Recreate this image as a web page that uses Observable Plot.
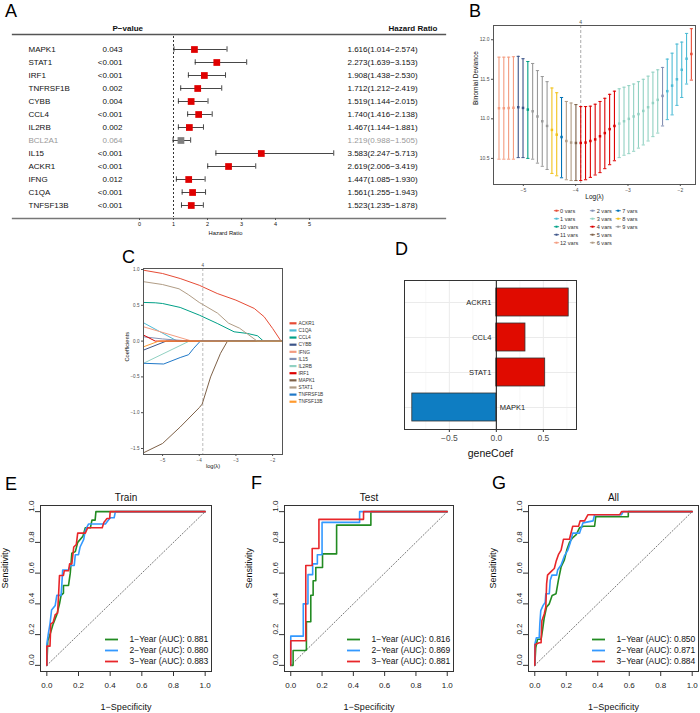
<!DOCTYPE html>
<html><head><meta charset="utf-8">
<script src="https://cdn.jsdelivr.net/npm/d3@7"></script>
<script src="https://cdn.jsdelivr.net/npm/@observablehq/plot@0.6"></script>
<style>
body{margin:0;background:#fff;}
#root{position:relative;width:700px;height:713px;overflow:hidden;background:#fff;font-family:"Liberation Sans",Arial,Helvetica,sans-serif;}
.pl{position:absolute;}
.pl svg{display:block;overflow:visible;}
</style></head><body><div id="root"></div>
<script>
// ---------- Panel A: forest plot ----------
const forestGenes = ["MAPK1","STAT1","IRF1","TNFRSF1B","CYBB","CCL4","IL2RB","BCL2A1","IL15","ACKR1","IFNG","C1QA","TNFSF13B"];
const pValues = ["0.043","<0.001","<0.001","0.002","0.004","<0.001","0.002","0.064","<0.001","<0.001","0.012","<0.001","<0.001"];
const hrEst  = [1.616,2.273,1.908,1.712,1.519,1.740,1.467,1.219,3.583,2.619,1.447,1.561,1.523];
const hrLow  = [1.014,1.639,1.438,1.212,1.144,1.416,1.144,0.988,2.247,2.006,1.085,1.255,1.235];
const hrHigh = [2.574,3.153,2.530,2.419,2.015,2.138,1.881,1.505,5.713,3.419,1.930,1.943,1.878];
const hrTicks = [0,1,2,3,4,5];

// ---------- Panel B: cross-validation curve ----------
const cvLogLambda = [-5.465,-5.373,-5.281,-5.189,-5.097,-5.006,-4.914,-4.822,-4.730,-4.638,-4.546,-4.454,-4.362,-4.270,-4.178,-4.087,-3.995,-3.903,-3.811,-3.719,-3.627,-3.535,-3.443,-3.351,-3.259,-3.168,-3.076,-2.984,-2.892,-2.800,-2.708,-2.616,-2.524,-2.432,-2.340,-2.249,-2.157,-2.065,-1.973,-1.881,-1.789];
const cvMean = [11.134,11.134,11.136,11.14,11.147,11.138,11.117,11.096,11.03,10.97,10.91,10.86,10.80,10.77,10.72,10.70,10.695,10.695,10.70,10.72,10.74,10.78,10.82,10.87,10.91,10.94,10.97,11.00,11.03,11.06,11.10,11.147,11.20,11.24,11.29,11.35,11.42,11.50,11.62,11.76,11.82];
const cvUpper = [11.78,11.78,11.78,11.785,11.79,11.76,11.725,11.70,11.61,11.535,11.47,11.39,11.33,11.27,11.22,11.20,11.18,11.155,11.155,11.16,11.185,11.22,11.26,11.31,11.35,11.38,11.40,11.42,11.44,11.47,11.50,11.54,11.59,11.62,11.65,11.755,11.83,11.945,11.97,12.08,12.14];
const cvLower = [10.49,10.49,10.49,10.49,10.51,10.51,10.50,10.49,10.44,10.40,10.36,10.31,10.28,10.255,10.23,10.22,10.22,10.22,10.23,10.26,10.29,10.32,10.37,10.42,10.47,10.51,10.54,10.56,10.59,10.63,10.67,10.72,10.775,10.82,10.91,10.99,11.05,11.17,11.27,11.44,11.49];
const cvNVars = [12,12,12,12,11,11,10,9,9,9,9,8,8,7,6,6,5,4,4,4,4,4,4,4,4,3,3,3,3,3,3,3,3,3,2,1,1,1,1,1,0];
const lambdaMin = -3.903;
const lambdaMinVars = "4";
const varLevels = ["0 vars","1 vars","10 vars","11 vars","12 vars","2 vars","3 vars","4 vars","5 vars","6 vars","7 vars","8 vars","9 vars"];
const varPalette = ["#E64B35","#4DBBD5","#00A087","#3C5488","#F39B7F","#8491B4","#91D1C2","#DC0000","#7E6148","#B09C85","#0072B5","#F2C21B","#999999"];

// ---------- Panel C: coefficient paths (log lambda, coefficient) ----------
const coefGenes = ["ACKR1","C1QA","CCL4","CYBB","IFNG","IL15","IL2RB","IRF1","MAPK1","STAT1","TNFRSF1B","TNFSF13B"];
const coefPalette = ["#E64B35","#4DBBD5","#00A087","#3C5488","#F39B7F","#8491B4","#91D1C2","#DC0000","#7E6148","#B09C85","#1F78C8","#FF9A2E"];
const pathACKR1 = [[-5.52,0.99],[-5.0,0.944],[-4.52,0.874],[-4.0,0.78],[-3.51,0.665],[-3.0,0.572],[-2.5,0.456],[-2.23,0.34],[-2.0,0.177],[-1.77,0],[-1.73,0]];
const pathC1QA = [[-5.52,0.256],[-4.6,0],[-1.73,0]];
const pathCCL4 = [[-5.52,0.54],[-5.2,0.535],[-5.0,0.525],[-4.52,0.47],[-4.0,0.363],[-3.51,0.247],[-3.05,0.13],[-2.69,0.107],[-2.41,0.074],[-2.25,0],[-1.73,0]];
const pathCYBB = [[-5.52,-0.126],[-4.9,0],[-1.73,0]];
const pathIFNG = [[-5.52,0.2],[-4.2,0],[-1.73,0]];
const pathIL15 = [[-5.52,0.06],[-5.0,0.03],[-4.25,0],[-1.73,0]];
const pathIL2RB = [[-5.52,-0.31],[-4.27,0],[-1.73,0]];
const pathIRF1 = [[-5.52,0.084],[-5.2,0],[-1.73,0]];
const pathMAPK1 = [[-5.52,-1.56],[-5.0,-1.43],[-4.52,-1.2],[-4.0,-0.93],[-3.92,-0.88],[-3.69,-0.5],[-3.42,-0.17],[-3.23,0],[-1.73,0]];
const pathSTAT1 = [[-5.52,0.83],[-5.0,0.79],[-4.55,0.73],[-4.3,0.65],[-4.0,0.54],[-3.5,0.39],[-3.2,0.25],[-2.9,0.18],[-2.42,0],[-1.73,0]];
const pathTNFRSF1B = [[-5.52,-0.31],[-4.97,-0.32],[-4.52,-0.23],[-4.29,-0.19],[-4.15,-0.10],[-3.97,0],[-1.73,0]];
const pathTNFSF13B = [[-5.52,-0.08],[-5.1,0],[-1.73,0]];
const coefPaths = [pathACKR1,pathC1QA,pathCCL4,pathCYBB,pathIFNG,pathIL15,pathIL2RB,pathIRF1,pathMAPK1,pathSTAT1,pathTNFRSF1B,pathTNFSF13B];

// ---------- Panel D: selected gene coefficients ----------
const modelGenes = ["ACKR1","CCL4","STAT1","MAPK1"];
const modelCoef = [0.77,0.31,0.52,-0.894];

// ---------- Panels E-G: ROC curves (FPR, TPR) ----------
const rocYears = ["1","2","3"];
const rocColors = ["#228B22","#3399FF","#E8262A"];
const trainY1 = [[0,0],[0.006,0.16],[0.02,0.2],[0.04,0.27],[0.063,0.33],[0.08,0.4],[0.09,0.455],[0.105,0.47],[0.105,0.52],[0.137,0.52],[0.148,0.6],[0.158,0.73],[0.18,0.74],[0.195,0.8],[0.228,0.84],[0.243,0.895],[0.275,0.895],[0.285,0.945],[0.305,0.945],[0.31,1],[1,1]];
const trainY2 = [[0,0],[0,0.136],[0.01,0.21],[0.02,0.27],[0.03,0.36],[0.053,0.39],[0.063,0.455],[0.09,0.455],[0.095,0.53],[0.1,0.62],[0.137,0.62],[0.148,0.65],[0.173,0.65],[0.18,0.72],[0.2,0.72],[0.21,0.77],[0.233,0.82],[0.243,0.88],[0.264,0.92],[0.37,0.92],[0.40,0.96],[0.425,0.96],[0.433,1],[1,1]];
const trainY3 = [[0,0],[0,0.125],[0.02,0.125],[0.025,0.27],[0.04,0.28],[0.053,0.33],[0.068,0.34],[0.074,0.455],[0.08,0.585],[0.105,0.585],[0.11,0.615],[0.137,0.615],[0.144,0.66],[0.158,0.66],[0.17,0.77],[0.186,0.785],[0.195,0.86],[0.243,0.86],[0.258,0.895],[0.35,0.895],[0.36,0.93],[0.38,0.955],[0.397,0.955],[0.40,1],[1,1]];
const testY1 = [[0,0],[0.015,0],[0.015,0.097],[0.09,0.097],[0.1,0.1],[0.1,0.284],[0.128,0.284],[0.128,0.456],[0.143,0.456],[0.143,0.55],[0.16,0.55],[0.16,0.637],[0.203,0.637],[0.203,0.725],[0.293,0.725],[0.293,0.912],[0.512,0.912],[0.512,1],[1,1]];
const testY2 = [[0,0],[0,0.19],[0.08,0.19],[0.08,0.40],[0.11,0.40],[0.11,0.59],[0.14,0.59],[0.14,0.66],[0.17,0.66],[0.17,0.72],[0.2,0.72],[0.2,0.93],[0.44,0.93],[0.44,1],[1,1]];
const testY3 = [[0,0],[0,0.16],[0.096,0.16],[0.096,0.65],[0.137,0.65],[0.137,0.76],[0.18,0.76],[0.18,0.95],[0.465,0.95],[0.465,1],[1,1]];
const allY1 = [[0,0],[0.006,0.114],[0.017,0.17],[0.04,0.17],[0.05,0.235],[0.06,0.31],[0.075,0.38],[0.092,0.4],[0.11,0.455],[0.135,0.466],[0.15,0.554],[0.167,0.64],[0.188,0.686],[0.203,0.75],[0.22,0.8],[0.24,0.83],[0.263,0.85],[0.284,0.895],[0.31,0.905],[0.38,0.905],[0.387,0.967],[0.594,0.967],[0.594,1],[1,1]];
const allY2 = [[0,0],[0,0.136],[0.01,0.18],[0.028,0.18],[0.032,0.27],[0.038,0.356],[0.053,0.39],[0.066,0.41],[0.07,0.466],[0.092,0.466],[0.098,0.554],[0.109,0.587],[0.139,0.587],[0.145,0.62],[0.167,0.653],[0.188,0.712],[0.21,0.75],[0.226,0.8],[0.241,0.86],[0.284,0.86],[0.306,0.927],[0.37,0.94],[0.38,0.98],[0.55,0.98],[0.562,1],[1,1]];
const allY3 = [[0,0],[0.002,0.136],[0.028,0.147],[0.04,0.147],[0.045,0.29],[0.06,0.334],[0.07,0.38],[0.075,0.53],[0.081,0.587],[0.103,0.61],[0.124,0.63],[0.135,0.675],[0.15,0.72],[0.167,0.75],[0.182,0.82],[0.22,0.82],[0.241,0.905],[0.278,0.905],[0.288,0.94],[0.316,0.94],[0.338,0.98],[0.54,0.98],[0.551,1],[1,1]];
const aucTrain = [0.881,0.880,0.883];
const aucTest = [0.816,0.869,0.881];
const aucAll = [0.850,0.871,0.884];
const rocTicks = [0,0.2,0.4,0.6,0.8,1];

// ================= rendering =================
const FF = '"Liberation Sans", Arial, Helvetica, sans-serif';
const root = document.getElementById("root");
function place(node, left, top){const d=document.createElement("div");d.className="pl";d.style.left=left+"px";d.style.top=top+"px";d.appendChild(node);root.appendChild(d);}
const baseStyle = (fs, col) => ({fontFamily:FF, fontSize:fs+"px", color:col, background:"transparent", overflow:"visible"});
const capSym = {draw(ctx){ctx.moveTo(-1.6,0);ctx.lineTo(1.6,0);}};
const keySym = {draw(ctx){ctx.moveTo(-6.5,0);ctx.lineTo(6.5,0);}};
const intFmt = d3.format("d");
const M = "middle";

// Panel A
const forest = forestGenes.map((g,i)=>({gene:g,p:pValues[i],hr:hrEst[i],lo:hrLow[i],hi:hrHigh[i]}));
const isSig = d => d.p.startsWith("<") || +d.p < 0.05;
const f3 = d3.format(".3f");
const plotA = Plot.plot({
  width:450, height:222, marginLeft:12, marginRight:5, marginTop:14, marginBottom:24,
  x:{domain:[0,5], range:[139,309]},
  y:{type:"band", domain:forestGenes, range:[15.3,197.7], axis:null},
  color:{type:"identity"},
  style:baseStyle(8,"#111"),
  marks:[
    Plot.frame({anchor:"top", stroke:"#555", strokeWidth:1.3}),
    Plot.frame({anchor:"bottom", stroke:"#777", strokeWidth:1.3}),
    Plot.ruleX([1], {stroke:"#333", strokeDasharray:"2,2", insetTop:2, insetBottom:1}),
    Plot.ruleY(forest, {y:"gene", x1:"lo", x2:"hi", stroke:"#333", strokeWidth:0.9}),
    Plot.tickX(forest, {x:"lo", y:"gene", stroke:"#333", strokeWidth:0.9, insetTop:3.3, insetBottom:3.3}),
    Plot.tickX(forest, {x:"hi", y:"gene", stroke:"#333", strokeWidth:0.9, insetTop:3.3, insetBottom:3.3}),
    Plot.dot(forest, {x:"hr", y:"gene", symbol:"square", r:3.8, fill:d=>isSig(d)?"#E00000":"#7F7F7F", stroke:null}),
    Plot.text(forest, {y:"gene", text:"gene", frameAnchor:"left", dx:16, textAnchor:"start", fill:d=>isSig(d)?"#111":"#999"}),
    Plot.text(forest, {y:"gene", text:"p", frameAnchor:"left", dx:110, textAnchor:"end", fill:d=>isSig(d)?"#111":"#999"}),
    Plot.text(forest, {y:"gene", text:d=>`${f3(d.hr)}(${f3(d.lo)}\u2212${f3(d.hi)})`, frameAnchor:"left", dx:335, textAnchor:"start", fill:d=>isSig(d)?"#111":"#999"}),
    Plot.text(["P\u2212value"], {frameAnchor:"top-left", lineAnchor:M, dx:100, dy:-6, fontWeight:"bold"}),
    Plot.text(["Hazard Ratio"], {frameAnchor:"top-left", lineAnchor:M, dx:376, dy:-6, fontWeight:"bold"}),
    Plot.axisX({ticks:hrTicks, tickFormat:intFmt, tickSize:2, tickPadding:2, fontSize:5.5, label:null, stroke:"#555"}),
    Plot.text(["Hazard Ratio"], {frameAnchor:"bottom", lineAnchor:M, dx:-3.5, dy:14.7, fontSize:5.8})
  ]
});
place(plotA, 0, 20);

// Panel B
const cv = cvLogLambda.map((l,i)=>({lam:l, mean:cvMean[i], hi:cvUpper[i], lo:cvLower[i], v:cvNVars[i]+" vars"}));
const plotB = Plot.plot({
  width:260, height:190, marginLeft:53, marginRight:5, marginTop:10, marginBottom:21,
  x:{domain:[-5.57,-1.71]}, y:{domain:[10.17,12.18]},
  color:{domain:varLevels, range:varPalette},
  style:baseStyle(5,"#4D4D4D"),
  marks:[
    Plot.ruleX([lambdaMin], {stroke:"#aaa", strokeDasharray:"3,2"}),
    Plot.ruleX(cv, {x:"lam", y1:"lo", y2:"hi", stroke:"v", strokeWidth:1.1}),
    Plot.dot(cv, {x:"lam", y:"hi", symbol:capSym, stroke:"v", strokeWidth:1}),
    Plot.dot(cv, {x:"lam", y:"lo", symbol:capSym, stroke:"v", strokeWidth:1}),
    Plot.dot(cv, {x:"lam", y:"mean", symbol:"square", r:1.4, fill:"v"}),
    Plot.frame({stroke:"#555", strokeWidth:1}),
    Plot.axisX({ticks:[-5,-4,-3,-2], tickFormat:intFmt, tickSize:2, tickPadding:2, label:null}),
    Plot.axisY({ticks:[10.5,11,11.5,12], tickFormat:".1f", tickSize:2, tickPadding:2, label:null}),
    Plot.axisX({anchor:"top", ticks:[lambdaMin], tickFormat:()=>lambdaMinVars, tickSize:0, tickPadding:2, label:null}),
    Plot.text(["Binomial Deviance"], {frameAnchor:"left", dx:-18, rotate:-90, fontSize:6.5, fill:"#111"}),
    Plot.text(["Log(\u03bb)"], {frameAnchor:"bottom", lineAnchor:M, dy:12.5, fontSize:6.5, fill:"#111"})
  ]
});
place(plotB, 440, 15);

// Panel C
const coefData = coefPaths.flatMap((p,i)=>p.map(([l,c])=>({lam:l, coef:c, gene:coefGenes[i]})));
const plotC = Plot.plot({
  width:190, height:225, marginLeft:43, marginRight:8, marginTop:18, marginBottom:21,
  x:{domain:[-5.52,-1.73]}, y:{domain:[-1.584,1.014]},
  color:{domain:coefGenes, range:coefPalette},
  style:baseStyle(4.6,"#4D4D4D"),
  marks:[
    Plot.ruleX([lambdaMin], {stroke:"#bbb", strokeDasharray:"3,2"}),
    Plot.line(coefData, {x:"lam", y:"coef", z:"gene", stroke:"gene", strokeWidth:1}),
    Plot.frame({stroke:"#555", strokeWidth:1}),
    Plot.axisX({ticks:[-5,-4,-3,-2], tickFormat:intFmt, tickSize:2, tickPadding:2, label:null}),
    Plot.axisY({ticks:[-1.5,-1,-0.5,0,0.5,1], tickFormat:".1f", tickSize:2, tickPadding:2, label:null}),
    Plot.axisX({anchor:"top", ticks:[lambdaMin], tickFormat:()=>lambdaMinVars, tickSize:0, tickPadding:2, label:null}),
    Plot.text(["Coefficients"], {frameAnchor:"left", dx:-16, rotate:-90, fontSize:5.7, fill:"#111"}),
    Plot.text(["log(\u03bb)"], {frameAnchor:"bottom", lineAnchor:M, dy:12, fontSize:5.7, fill:"#111"})
  ]
});
place(plotC, 100, 250);

// Panel D
const geneCoef = modelGenes.map((g,i)=>({gene:g, coef:modelCoef[i]}));
const plotD = Plot.plot({
  width:215, height:200, marginLeft:34, marginRight:9, marginTop:10, marginBottom:41,
  x:{domain:[-0.977,0.853]},
  y:{type:"band", domain:modelGenes, paddingInner:0.2, paddingOuter:0.2, axis:null},
  color:{type:"identity"},
  style:baseStyle(8.5,"#4D4D4D"),
  marks:[
    Plot.gridX({ticks:[-0.75,-0.25,0.25,0.75], stroke:"#F3F3F3", strokeOpacity:1, strokeWidth:0.6}),
    Plot.gridX({ticks:[-0.5,0,0.5], stroke:"#EBEBEB", strokeOpacity:1, strokeWidth:1}),
    Plot.gridY({stroke:"#EBEBEB", strokeOpacity:1, strokeWidth:1}),
    Plot.barX(geneCoef, {x:"coef", y:"gene", fill:d=>d.coef>0?"#E00B00":"#0E7DC2", stroke:"#333", strokeWidth:0.8}),
    Plot.ruleX([0], {stroke:"#111", strokeWidth:1}),
    Plot.text(geneCoef.filter(d=>d.coef>0), {x:0, y:"gene", text:"gene", textAnchor:"end", dx:-5, fontSize:7.5, fill:"#222"}),
    Plot.text(geneCoef.filter(d=>d.coef<=0), {x:0, y:"gene", text:"gene", textAnchor:"start", dx:3.5, fontSize:7.5, fill:"#222"}),
    Plot.frame({stroke:"#333", strokeWidth:1}),
    Plot.axisX({ticks:[-0.5,0,0.5], tickFormat:".1f", tickSize:3, tickPadding:2, label:null, stroke:"#333"}),
    Plot.text(["geneCoef"], {frameAnchor:"bottom", lineAnchor:M, dy:24, fontSize:10.5, fill:"#111"})
  ]
});
place(plotD, 370, 270);

// Panels E-G
function rocPanel(title, curves, aucs, width, marginRight){
  const data = curves.flatMap((c,i)=>c.map(([x,y])=>({fpr:x, tpr:y, s:rocYears[i]})));
  const rowDy = [-32,-21,-10];
  const legend = rocYears.flatMap((yr,i)=>[
    Plot.dot([yr], {frameAnchor:"bottom-right", dx:-100, dy:rowDy[i], symbol:keySym, stroke:rocColors[i], strokeWidth:1.8}),
    Plot.text([`${yr}\u2212Year (AUC): ${aucs[i].toFixed(3)}`], {frameAnchor:"bottom-right", lineAnchor:M, dx:-82, dy:rowDy[i], textAnchor:"start", fontSize:8.5, fill:"#111"})
  ]);
  return Plot.plot({
    width, height:225, marginLeft:40, marginRight, marginTop:17, marginBottom:42,
    x:{domain:[-0.04,1.04]}, y:{domain:[-0.04,1.04]},
    color:{domain:rocYears, range:rocColors},
    style:baseStyle(8,"#222"),
    marks:[
      Plot.line([0,1], {x:d=>d, y:d=>d, stroke:"#555", strokeWidth:0.8, strokeDasharray:"1.2,2"}),
      Plot.line(data, {x:"fpr", y:"tpr", z:"s", stroke:"s", strokeWidth:1.6}),
      Plot.frame({stroke:"#333", strokeWidth:1}),
      Plot.axisX({ticks:rocTicks, tickFormat:".1f", tickSize:5, tickPadding:6, label:null, stroke:"#333"}),
      Plot.axisY({ticks:rocTicks, tickFormat:()=>"", tickSize:5, label:null, stroke:"#333"}),
      Plot.text(rocTicks, {y:d=>d, text:d=>d.toFixed(1), frameAnchor:"left", dx:-9, rotate:-90}),
      Plot.text([title], {frameAnchor:"top", lineAnchor:M, dy:-8, fontSize:10, fill:"#111"}),
      Plot.text(["1\u2212Specificity"], {frameAnchor:"bottom", lineAnchor:M, dy:36, fontSize:9, fill:"#111"}),
      Plot.text(["Sensitivity"], {frameAnchor:"left", dx:-35, rotate:-90, fontSize:9, fill:"#111"}),
      ...legend
    ]
  });
}
place(rocPanel("Train", [trainY1,trainY2,trainY3], aucTrain, 220, 9), 0, 488);
place(rocPanel("Test", [testY1,testY2,testY3], aucTest, 218, 9), 244, 488);
place(rocPanel("All", [allY1,allY2,allY3], aucAll, 212, 2), 488, 488);

// Overlay: panel letters and small legends of B and C
const ov = d3.select(root).append("svg").attr("width",700).attr("height",713)
  .style("position","absolute").style("left","0px").style("top","0px").style("pointer-events","none")
  .style("font-family", FF);
const panelLetters = ["A","B","C","D","E","F","G"];
const letterX = [5,469,122,395,5,251,492];
const letterY = [16.7,16.7,263,255,490,489,489];
panelLetters.forEach((t,i)=>ov.append("text").attr("x",letterX[i]).attr("y",letterY[i]).attr("font-size",18).attr("fill","#000").text(t));
// B legend (3 columns, 5 rows)
const bColSym = [556.5,592.5,618.2], bColText = [560,596.7,622.3];
varLevels.forEach((v,i)=>{
  const col = Math.floor(i/5), row = i%5, y = 210.7 + row*8;
  ov.append("line").attr("x1",bColSym[col]-2.6).attr("x2",bColSym[col]+2.6).attr("y1",y).attr("y2",y).attr("stroke",varPalette[i]).attr("stroke-width",0.9);
  ov.append("rect").attr("x",bColSym[col]-1).attr("y",y-1).attr("width",2).attr("height",2).attr("fill",varPalette[i]);
  ov.append("text").attr("x",bColText[col]).attr("y",y+1.9).attr("font-size",5.6).attr("fill","#333").text(v);
});
// C legend
coefGenes.forEach((g,i)=>{
  const y = 323.3 + i*7.13;
  ov.append("line").attr("x1",289.5).attr("x2",296.5).attr("y1",y).attr("y2",y).attr("stroke",coefPalette[i]).attr("stroke-width",2.2);
  ov.append("text").attr("x",298.5).attr("y",y+1.7).attr("font-size",4.8).attr("fill","#333").text(g);
});
</script></body></html>
